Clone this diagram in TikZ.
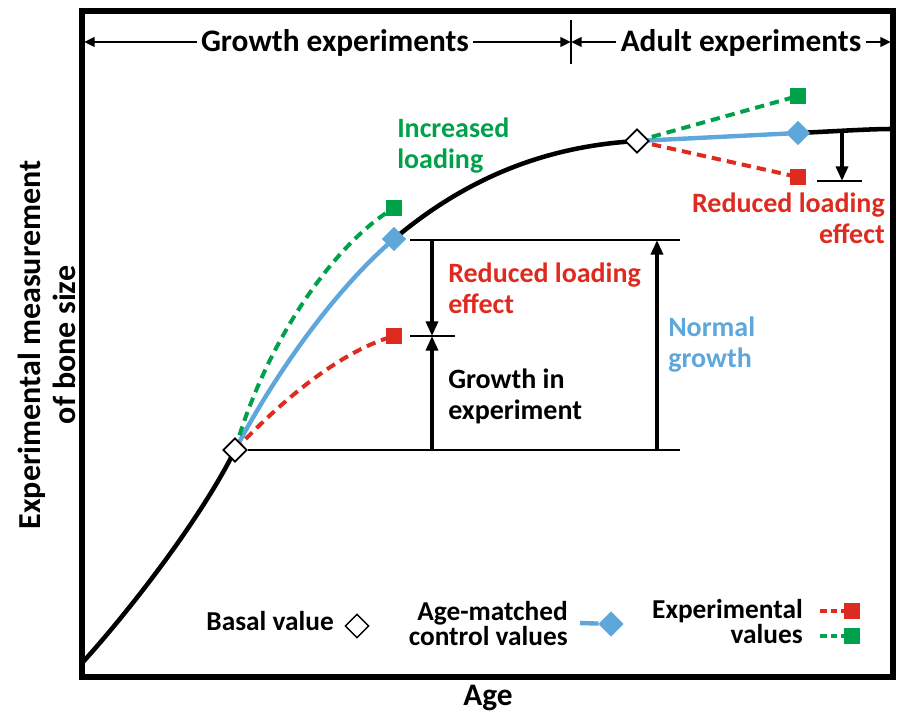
\documentclass[tikz,border=0pt]{standalone}
\usepackage{fontspec}
\setmainfont{Carlito}
\usetikzlibrary{arrows.meta, shapes.geometric, backgrounds}
\definecolor{ctrlblue}{RGB}{94,167,218}
\definecolor{expred}{RGB}{221,43,32}
\definecolor{expgreen}{RGB}{0,161,75}

\begin{document}
\begin{tikzpicture}[
  x=0.75pt, y=-0.75pt,
  annot/.style={font=\bfseries\fontsize{21}{23}\selectfont, inner sep=0pt},
  axislabel/.style={font=\bfseries\fontsize{23.5}{26}\selectfont, inner sep=0pt},
  legendtext/.style={font=\bfseries\fontsize{20.5}{18}\selectfont,
                     align=right, inner sep=0pt, anchor=north east},
  basal/.style={diamond, draw=black, fill=white, line width=1.4pt,
                inner sep=0pt, minimum size=18pt},
  ctrl/.style={diamond, fill=ctrlblue, inner sep=0pt, minimum size=18.5pt},
  expsq/.style={rectangle, inner sep=0pt, minimum size=12pt},
  growthcurve/.style={line width=3.4pt},
  ctrlline/.style={draw=ctrlblue, line width=3.3pt},
  expline/.style={dash pattern=on 7pt off 4.5pt, line width=3pt},
  dimarrow/.style={-{Triangle[length=11pt, width=9pt]}, line width=2.6pt},
  spanarrow/.style={-{Triangle[length=8pt, width=7pt]}, line width=2.2pt},
  guide/.style={line width=1.7pt},
]

\useasboundingbox (0,0) rectangle (904,720);

% =================================================================
%  FRAME AND AXIS LABELS
% =================================================================
\draw[line width=4pt] (82,11) rectangle (893,677);

\node[axislabel, anchor=base] (agelabel) at (488,705) {Age};
\node[axislabel, font=\bfseries\fontsize{24}{26.5}\selectfont,
      align=center, rotate=90] (sizelabel) at (47,345)
  {Experimental measurement\\of bone size};

% =================================================================
%  PHASES ALONG THE TOP
% =================================================================
\coordinate (spanL) at (84,42);
\coordinate (spanM) at (571,42);
\coordinate (spanR) at (891,42);

\node[axislabel, anchor=base, inner xsep=3pt] (growth) at (335,52)
  {Growth experiments};
\node[axislabel, anchor=base, inner xsep=3pt] (adult) at (741,52)
  {Adult experiments};

\draw[spanarrow] (growth.west |- spanL) -- (spanL);
\draw[spanarrow] (growth.east |- spanM) -- (spanM);
\draw[spanarrow] (adult.west |- spanM) -- (spanM);
\draw[spanarrow] (adult.east |- spanR) -- (spanR);
\draw[guide] (spanM) ++(0,-22) -- ++(0,44);

% =================================================================
%  MARKERS
% =================================================================
\coordinate (origin) at (83,662);
\coordinate (plateau) at (892,129);

\node[basal] (basal1) at (235,450) {};
\node[ctrl] (ctrl1) at (394,239) {};
\node[expsq, fill=expgreen] (green1) at (394,208) {};
\node[expsq, fill=expred] (red1) at (394,336) {};

\node[basal] (basal2) at (637,141) {};
\node[ctrl] (ctrl2) at (798,133) {};
\node[expsq, fill=expgreen] (green2) at (798,96) {};
\node[expsq, fill=expred] (red2) at (798,177) {};

% =================================================================
%  CURVES
% =================================================================
\begin{scope}[on background layer]
\draw[growthcurve] (origin) .. controls (130,610) and (200,520) .. (basal1.center);
\draw[growthcurve] (ctrl1.center) .. controls (470,175) and (550,146) .. (basal2.center);
\draw[growthcurve] (ctrl2.center) .. controls (840,131) and (870,129) .. (plateau);

\draw[ctrlline] (basal1.center) .. controls (280,365) and (340,285) .. (ctrl1.center);
\draw[expline, expgreen] (basal1.center) .. controls (265,345) and (332,245) .. (green1.center);
\draw[expline, expred] (basal1.center) .. controls (290,392) and (345,350) .. (red1.center);

\draw[ctrlline] (basal2.center) -- (ctrl2.center);
\draw[expline, expgreen] (basal2.center) -- (green2.center);
\draw[expline, expred] (basal2.center) -- (red2.center);
\end{scope}

% =================================================================
%  GROWTH MEASURES
% =================================================================
\coordinate (baseEnd) at (680,450);
\coordinate (ctrlStart) at (410,240);
\coordinate (ctrlEnd) at (680,240);
\coordinate (redStart) at (410,336);
\coordinate (redEnd) at (455,336);
\coordinate (ctrlLvl) at (432,240);
\coordinate (redLvl) at (432,336);
\coordinate (baseLvl) at (432,450);
\coordinate (normBase) at (657,450);
\coordinate (normTop) at (657,240);

\draw[guide] (basal1) -- (baseEnd);
\draw[guide] (ctrlStart) -- (ctrlEnd);
\draw[guide] (redStart) -- (redEnd);
\draw[dimarrow] (ctrlLvl) -- (redLvl);
\draw[dimarrow] (baseLvl) -- (redLvl);
\draw[dimarrow] (normBase) -- (normTop);

\coordinate (adultTop) at (842,133);
\coordinate (adultLvl) at (842,181);
\coordinate (adultStart) at (817,181);
\coordinate (adultEnd) at (862,181);
\draw[dimarrow] (adultTop) -- (adultLvl);
\draw[guide] (adultStart) -- (adultEnd);

% =================================================================
%  ANNOTATIONS
% =================================================================
\node[annot, expgreen, align=left, anchor=north west] (incr) at (397,118)
  {Increased\\loading};
\node[annot, expred, align=left, anchor=north west] (redgrow) at (448,263)
  {Reduced loading\\effect};
\node[annot, align=left, anchor=north west] (growin) at (448,369)
  {Growth in\\experiment};
\node[annot, ctrlblue, align=left, anchor=north west] (normal) at (668,317)
  {Normal\\growth};
\node[annot, expred, align=right, anchor=north east] (redadult) at (885,193)
  {Reduced loading\\effect};

% =================================================================
%  LEGEND
% =================================================================
\node[legendtext] (lgbasal) at (334,611) {Basal value};
\node[basal, line width=1.1pt, minimum size=18pt] (lgdiamond) at (357,626) {};

\node[legendtext, font=\bfseries\fontsize{20.5}{17.5}\selectfont] (lgctrl) at (568,601)
  {Age-matched\\control values};
\coordinate (lgctrlStart) at (580,623);
\node[ctrl, minimum size=19pt] (lgctrldia) at (611,624) {};
\draw[ctrlline] (lgctrlStart) -- (lgctrldia);

\node[legendtext, font=\bfseries\fontsize{20.5}{19}\selectfont] (lgexp) at (803,599)
  {Experimental\\values};
\coordinate (lgredStart) at (820,611);
\coordinate (lggreenStart) at (820,636);
\node[expsq] [fill=expred] (lgred) at (852,611) {};
\node[expsq] [fill=expgreen] (lggreen) at (852,636) {};
\draw[expline, expred, dash pattern=on 5pt off 3pt] (lgredStart) -- (lgred);
\draw[expline, expgreen, dash pattern=on 5pt off 3pt] (lggreenStart) -- (lggreen);

\end{tikzpicture}
\end{document}
